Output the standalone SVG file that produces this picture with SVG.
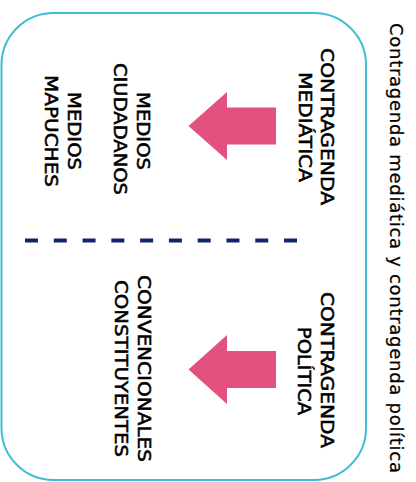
<svg xmlns="http://www.w3.org/2000/svg" width="416" height="482" viewBox="0 0 416 482">
<style>
.lbl{font-family:"DejaVu Sans","Liberation Sans",sans-serif;font-size:18px;fill:#000;stroke:#000;stroke-width:0.55px;text-anchor:middle}
.title{font-family:"DejaVu Sans","Liberation Sans",sans-serif;font-size:18px;fill:#000;stroke:#000;stroke-width:0.25px;text-anchor:middle}
.arrow{fill:#e3517f}
</style>
<rect width="416" height="482" fill="#ffffff"/>
<g id="frame">
<rect x="1.5" y="13" width="364.5" height="467" rx="52" ry="52" fill="none" stroke="#3dbdd8" stroke-width="2"/>
</g>
<g id="title">
<text class="title" transform="translate(390,248) rotate(90)" textLength="450" lengthAdjust="spacing">Contragenda mediática y contragenda política</text>
</g>
<g id="divider">
<line x1="25" y1="240.5" x2="297" y2="240.5" stroke="#14236e" stroke-width="4" stroke-dasharray="13 15.78"/>
</g>
<g id="contragenda-mediatica">
<text class="lbl" transform="translate(321,126.5) rotate(90)" textLength="157" lengthAdjust="spacingAndGlyphs">CONTRAGENDA</text>
<text class="lbl" transform="translate(299,127) rotate(90)" textLength="110" lengthAdjust="spacingAndGlyphs">MEDIÁTICA</text>
</g>
<g id="medios-ciudadanos">
<text class="lbl" transform="translate(137,131) rotate(90)" textLength="78" lengthAdjust="spacingAndGlyphs">MEDIOS</text>
<text class="lbl" transform="translate(114,129) rotate(90)" textLength="132" lengthAdjust="spacingAndGlyphs">CIUDADANOS</text>
</g>
<g id="medios-mapuches">
<text class="lbl" transform="translate(68,131) rotate(90)" textLength="78" lengthAdjust="spacingAndGlyphs">MEDIOS</text>
<text class="lbl" transform="translate(45,131) rotate(90)" textLength="112" lengthAdjust="spacingAndGlyphs">MAPUCHES</text>
</g>
<g id="contragenda-politica">
<text class="lbl" transform="translate(321,370) rotate(90)" textLength="156" lengthAdjust="spacingAndGlyphs">CONTRAGENDA</text>
<text class="lbl" transform="translate(298,371) rotate(90)" textLength="88" lengthAdjust="spacingAndGlyphs">POLÍTICA</text>
</g>
<g id="convencionales-constituyentes">
<text class="lbl" transform="translate(138,368.5) rotate(90)" textLength="187" lengthAdjust="spacingAndGlyphs">CONVENCIONALES</text>
<text class="lbl" transform="translate(115,368.5) rotate(90)" textLength="177" lengthAdjust="spacingAndGlyphs">CONSTITUYENTES</text>
</g>
<g id="connectors">
<polygon class="arrow" points="188.5,126 227,92 227,107.5 276,107.5 276,144.5 227,144.5 227,160"/>
<polygon class="arrow" points="188.5,369.5 227,335 227,351 276,351 276,388 227,388 227,404"/>
</g>
</svg>
